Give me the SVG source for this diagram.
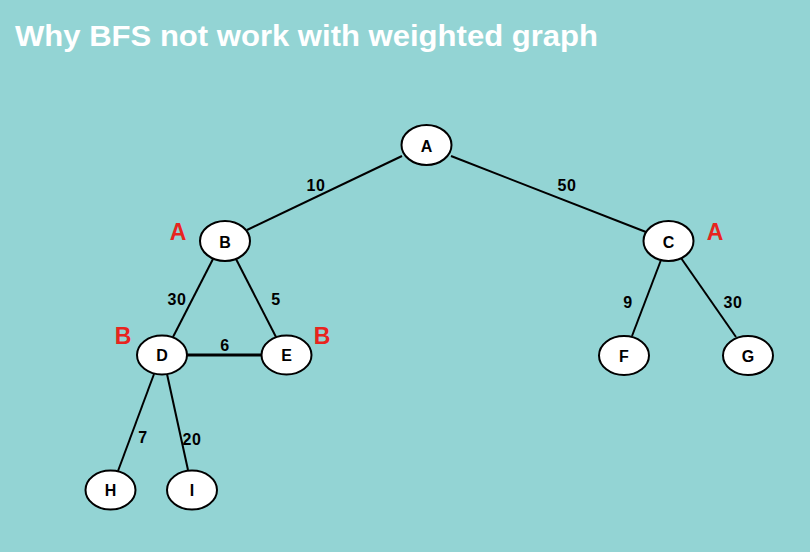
<svg xmlns="http://www.w3.org/2000/svg" width="810" height="552" viewBox="0 0 810 552">
<style>
.bg{fill:#93D4D4}
.node ellipse{fill:#fff;stroke:#000;stroke-width:2}
.node text{font-family:"Liberation Sans",Arial,sans-serif;font-size:16px;font-weight:bold;fill:#000;text-anchor:middle}
.edges line{stroke:#000;stroke-width:2}
.wt{font-family:"Liberation Sans",Arial,sans-serif;font-size:16px;font-weight:bold;fill:#000;text-anchor:middle;letter-spacing:0.5px}
.mark{font-family:"Liberation Sans",Arial,sans-serif;font-size:23px;font-weight:bold;fill:#E8241E;text-anchor:middle}
.title{font-family:"Liberation Sans",Arial,sans-serif;font-size:29px;font-weight:bold;fill:#fff}
</style>
<rect class="bg" x="0" y="0" width="810" height="552"/>
<text class="title" x="15" y="46" textLength="583" lengthAdjust="spacingAndGlyphs">Why BFS not work with weighted graph</text>
<g id="connectors" class="edges">
<line x1="402" y1="156" x2="247" y2="230"/>
<line x1="451" y1="156" x2="646" y2="232"/>
<line x1="213" y1="259" x2="173" y2="337"/>
<line x1="236" y1="259" x2="276" y2="337"/>
<line x1="187" y1="355" x2="262" y2="355" style="stroke-width:3"/>
<line x1="661" y1="260" x2="632" y2="336"/>
<line x1="681" y1="258" x2="736" y2="337"/>
<line x1="154" y1="374" x2="118" y2="471"/>
<line x1="167" y1="374" x2="188" y2="470"/>
</g>
<g id="weights">
<text class="wt" x="316" y="191">10</text>
<text class="wt" x="567" y="191">50</text>
<text class="wt" x="177" y="305">30</text>
<text class="wt" x="276" y="305">5</text>
<text class="wt" x="225" y="351">6</text>
<text class="wt" x="628" y="308">9</text>
<text class="wt" x="733" y="308">30</text>
<text class="wt" x="143" y="443">7</text>
<text class="wt" x="192" y="445">20</text>
</g>
<g id="marks">
<text class="mark" x="178" y="240">A</text>
<text class="mark" x="715" y="240">A</text>
<text class="mark" x="123" y="344">B</text>
<text class="mark" x="322" y="344">B</text>
</g>
<g id="node-A" class="node"><ellipse cx="426.5" cy="145" rx="25" ry="20"/><text x="426.5" y="151.5">A</text></g>
<g id="node-B" class="node"><ellipse cx="225" cy="241" rx="25" ry="20"/><text x="225" y="247.5">B</text></g>
<g id="node-C" class="node"><ellipse cx="668.5" cy="241" rx="25" ry="20"/><text x="668.5" y="247.5">C</text></g>
<g id="node-D" class="node"><ellipse cx="162" cy="355" rx="25" ry="19.5"/><text x="162" y="361">D</text></g>
<g id="node-E" class="node"><ellipse cx="286.5" cy="355" rx="25" ry="19.5"/><text x="286.5" y="361">E</text></g>
<g id="node-F" class="node"><ellipse cx="624" cy="355.5" rx="25" ry="19.5"/><text x="624" y="361.5">F</text></g>
<g id="node-G" class="node"><ellipse cx="748" cy="355.5" rx="25" ry="19.5"/><text x="748" y="361.5">G</text></g>
<g id="node-H" class="node"><ellipse cx="110.5" cy="490" rx="25" ry="19.5"/><text x="110.5" y="496">H</text></g>
<g id="node-I" class="node"><ellipse cx="192" cy="490" rx="25" ry="19.5"/><text x="192" y="496">I</text></g>
</svg>
